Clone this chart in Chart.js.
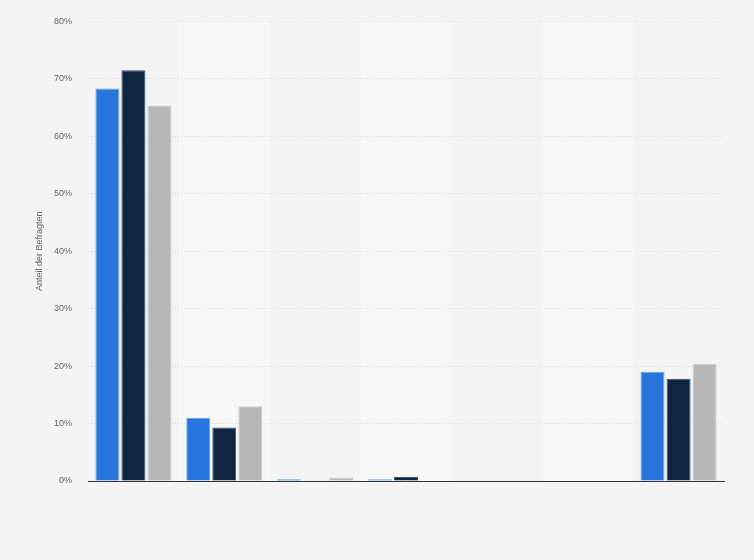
<!doctype html>
<html>
  <head>
    <meta charset="utf-8">
    <title>Anteil der Befragten</title>
    <style>
      html, body {
	  margin: 0;
	  padding: 0;
	  background: #f4f4f4;
      }
      #wrap {
	  width: 754px;
	  height: 560px;
      }
    </style>
    <script src="https://cdn.jsdelivr.net/npm/chart.js@4/dist/chart.umd.min.js"></script>
  </head>
  <body>
    <div id="wrap"><canvas id="chart" width="754" height="560"></canvas></div>
  </body>
  <script>
    // no category names are shown in the picture
    const categories = ["", "", "", "", "", "", ""];
    const series1 = [68.3, 11.0, 0.3, 0.3, 0.1, 0.1, 19.0];
    const series2 = [71.5, 9.3, 0.1, 0.7, 0.1, 0, 17.8];
    const series3 = [65.3, 13.0, 0.6, 0, 0.1, 0, 20.4];
    const yTicks = [0, 10, 20, 30, 40, 50, 60, 70, 80];

    // lighter stripes behind every second category, under the grid
    const bands = {
	id: "bands",
	beforeDraw(chart) {
	    let ctx = chart.ctx;
	    let x = chart.scales.x;
	    let area = chart.chartArea;
	    let w = (area.right - area.left) / categories.length;
	    ctx.save();
	    ctx.fillStyle = "#f8f8f8";
	    for (let i = 1; i < categories.length; i += 2) {
		let c = x.getPixelForValue(i);
		ctx.fillRect(c - w / 2, area.top, w, area.bottom - area.top);
	    }
	    ctx.restore();
	}
    };

    function ds(data, fill, edge) {
	return {
	    data: data,
	    backgroundColor: fill,
	    borderColor: edge,
	    borderWidth: {top: 1, left: 1, right: 1, bottom: 0},
	    borderSkipped: "bottom",
	    categoryPercentage: 0.86,
	    barPercentage: 0.92,
	};
    }

    let ctx = document.getElementById("chart");
    let myChart = new Chart(ctx, {
	type: "bar",
	data: {
	    labels: categories,
	    datasets: [
		ds(series1, "#2876dd", "#6b9fe6"),
		ds(series2, "#0f2640", "#3d5166"),
		ds(series3, "#b7b7b7", "#cccccc"),
	    ]
	},
	options: {
	    responsive: false,
	    animation: false,
	    layout: {padding: {top: 14, right: 30, bottom: 71, left: 34}},
	    plugins: {
		legend: {display: false},
		tooltip: {enabled: false},
	    },
	    scales: {
		x: {
		    ticks: {display: false},
		    grid: {display: false},
		    border: {display: true, color: "#333333", width: 1},
		},
		y: {
		    min: 0,
		    max: 80,
		    afterBuildTicks: (s) => { s.ticks = yTicks.map(v => ({value: v})); },
		    afterFit: (s) => { s.width = 54; },
		    ticks: {
			color: "#666666",
			font: {family: "Liberation Sans", size: 9},
			padding: 16,
			callback: (v) => v + "%",
		    },
		    grid: {
			color: "#d8d8d8",
			drawTicks: false,
		    },
		    border: {display: false, dash: [1, 2]},
		    title: {
			display: true,
			text: "Anteil der Befragten",
			color: "#666666",
			font: {family: "Liberation Sans", size: 9},
			padding: {top: 0, bottom: 8},
		    },
		},
	    }
	},
	plugins: [bands]
    });
  </script>
</html>
